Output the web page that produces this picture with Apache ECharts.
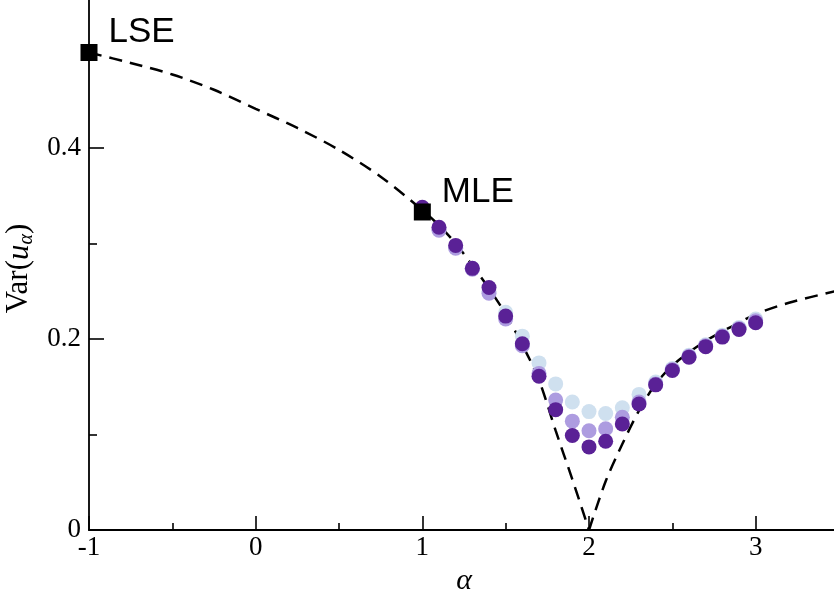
<!DOCTYPE html>
<html><head><meta charset="utf-8">
<script src="https://cdn.jsdelivr.net/npm/echarts@6/dist/echarts.min.js"></script>
<style>html,body{margin:0;padding:0;background:#fff}#c{width:834px;height:592px}</style>
</head><body><div id="c"></div>
<script>
// Dashed theoretical curve
const curveAlpha = [-1, -0.75, -0.5, -0.25, 0, 0.25, 0.5, 0.75, 1.0, 1.1, 1.2, 1.3, 1.4, 1.5, 1.6, 1.7, 1.8, 1.9, 2.0, 2.1, 2.2, 2.3, 2.4, 2.5, 2.6, 2.7, 2.8, 2.9, 3.0, 3.2, 3.5];
const curveVar   = [0.500, 0.489, 0.477, 0.461, 0.441, 0.421, 0.398, 0.370, 0.335, 0.319, 0.300, 0.277, 0.253, 0.226, 0.194, 0.157, 0.104, 0.053, 0.000, 0.051, 0.090, 0.125, 0.153, 0.172, 0.186, 0.198, 0.208, 0.217, 0.226, 0.238, 0.251];

// Simulation points
const simAlpha = [1.0, 1.1, 1.2, 1.3, 1.4, 1.5, 1.6, 1.7, 1.8, 1.9, 2.0, 2.1, 2.2, 2.3, 2.4, 2.5, 2.6, 2.7, 2.8, 2.9, 3.0];
const simLight  = [0.336, 0.315, 0.296, 0.274, 0.250, 0.228, 0.203, 0.175, 0.153, 0.134, 0.124, 0.122, 0.128, 0.142, 0.155, 0.169, 0.183, 0.194, 0.204, 0.212, 0.221];
const simMedium = [0.335, 0.314, 0.295, 0.273, 0.248, 0.221, 0.193, 0.164, 0.136, 0.114, 0.104, 0.106, 0.118, 0.134, 0.153, 0.168, 0.182, 0.193, 0.203, 0.211, 0.219];
const simDark   = [0.338, 0.317, 0.298, 0.274, 0.254, 0.224, 0.195, 0.161, 0.126, 0.099, 0.087, 0.093, 0.111, 0.132, 0.152, 0.167, 0.181, 0.192, 0.202, 0.210, 0.217];

// Estimator markers
const estNames = ['LSE', 'MLE'];
const estAlpha = [-1, 1];
const estVar   = [0.5, 0.333];

const xTicks = [-1, 0, 1, 2, 3];

const zip = (a, b) => a.map((v, i) => [v, b[i]]);
const serif = 'Liberation Serif';
const cusp = curveAlpha.indexOf(2.0);
const curvePts = zip(curveAlpha, curveVar);
const dashStyle = {color: '#000', width: 2.5, type: [13, 8]};

const chart = echarts.init(document.getElementById('c'), null, {renderer: 'canvas'});
chart.setOption({
  animation: false,
  backgroundColor: '#fff',
  grid: {left: 89, right: -5, top: -43, bottom: 62, containLabel: false, outerBoundsMode: 'none'},
  xAxis: {
    type: 'value', min: -1, max: 3.5, interval: 1,
    axisLine: {show: true, onZero: false, lineStyle: {color: '#000', width: 2}},
    axisTick: {show: true, inside: true, length: 14, lineStyle: {color: '#000', width: 1.6}},
    minorTick: {show: true, splitNumber: 2, length: 7, lineStyle: {color: '#000', width: 1.6}},
    splitLine: {show: false},
    axisLabel: {color: '#000', fontFamily: serif, fontSize: 27, margin: 4,
      formatter: v => xTicks.indexOf(v) >= 0 ? String(v) : ''},
    name: 'α', nameLocation: 'middle', nameGap: 29,
    nameTextStyle: {fontFamily: serif, fontStyle: 'italic', fontSize: 30, color: '#000'}
  },
  yAxis: {
    type: 'value', min: 0, max: 0.6, interval: 0.2,
    axisLine: {show: true, onZero: false, lineStyle: {color: '#000', width: 1.8}},
    axisTick: {show: true, inside: true, length: 15, lineStyle: {color: '#000', width: 1.6}},
    minorTick: {show: true, splitNumber: 2, length: 8, lineStyle: {color: '#000', width: 1.6}},
    splitLine: {show: false},
    axisLabel: {color: '#000', fontFamily: serif, fontSize: 27, margin: 8,
      formatter: v => v === 0 ? '0' : v.toFixed(1)},
    name: '{a|Var(}{i|u}{s|α}{a|)}', nameLocation: 'middle', nameGap: 49,
    nameTextStyle: {
      color: '#000',
      padding: [0, 50, 0, 0],
      rich: {
        a: {fontFamily: serif, fontSize: 31, lineHeight: 34, color: '#000'},
        i: {fontFamily: serif, fontStyle: 'italic', fontSize: 31, lineHeight: 34, color: '#000'},
        s: {fontFamily: serif, fontStyle: 'italic', fontSize: 20, lineHeight: 16, verticalAlign: 'bottom', color: '#000'}
      }
    }
  },
  series: [
    {type: 'line', data: curvePts.slice(0, cusp + 1), showSymbol: false, symbol: 'none', z: 1,
     smooth: 0.3, lineStyle: dashStyle},
    {type: 'line', data: curvePts.slice(cusp), showSymbol: false, symbol: 'none', z: 1,
     smooth: 0.3, lineStyle: dashStyle},
    {type: 'scatter', data: zip(simAlpha, simLight), symbolSize: 15, z: 2,
     itemStyle: {color: '#cfe0ef', opacity: 1}},
    {type: 'scatter', data: zip(simAlpha, simMedium), symbolSize: 15, z: 3,
     itemStyle: {color: '#ad9ce0', opacity: 1}},
    {type: 'scatter', data: zip(simAlpha, simDark), symbolSize: 15, z: 4,
     itemStyle: {color: '#5a2196', opacity: 1}},
    {type: 'scatter', symbol: 'rect', symbolSize: 17, z: 5,
     data: estAlpha.map((a, i) => ({value: [a, estVar[i]], name: estNames[i]})),
     itemStyle: {color: '#000', opacity: 1},
     label: {show: true, position: 'right', distance: 11, offset: [0, -20], opacity: 1,
       formatter: p => p.name, fontFamily: 'Liberation Sans', fontSize: 35, color: '#000'}}
  ]
});
</script></body></html>
